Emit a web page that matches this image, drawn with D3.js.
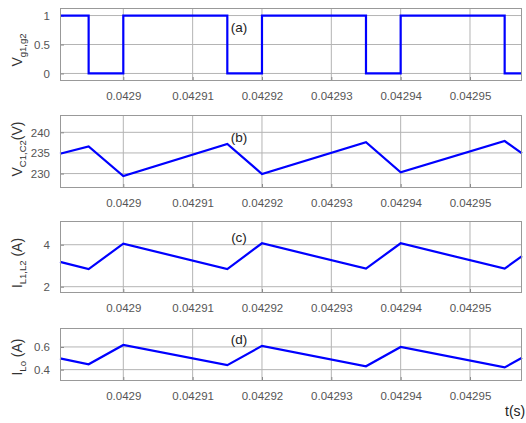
<!DOCTYPE html>
<html>
<head>
<meta charset="utf-8">
<script src="https://cdn.jsdelivr.net/npm/d3@7"></script>
<style>
  html, body { margin: 0; padding: 0; background: #fff; }
  svg { display: block; font-family: "Liberation Sans", Arial, sans-serif; }
</style>
</head>
<body>
<svg id="chart" width="526" height="423"></svg>
<script>
// Time window and x ticks (seconds)
const timeRange = [0.04289087, 0.0429575];
const xTicks = [0.0429, 0.04291, 0.04292, 0.04293, 0.04294, 0.04295];
const xTickLabels = ["0.0429", "0.04291", "0.04292", "0.04293", "0.04294", "0.04295"];

// Gate signal Vg1,g2 (step after each time)
const gateTimes = [0.04289087, 0.042895, 0.0429, 0.042915, 0.04292, 0.042935, 0.04294, 0.042955, 0.0429575];
const gateValues = [1, 0, 1, 0, 1, 0, 1, 0, 0];

// Corner times of the ripple waveforms
const rippleTimes = [0.04289087, 0.042895, 0.0429, 0.042915, 0.04292, 0.042935, 0.04294, 0.042955, 0.0429575];
// Capacitor voltage Vc1,c2 (V)
const vcValues = [234.8, 236.6, 229.4, 237.2, 229.9, 237.6, 230.3, 237.9, 234.9];
// Inductor current IL1,L2 (A)
const ilValues = [3.18, 2.84, 4.05, 2.84, 4.07, 2.86, 4.07, 2.86, 3.46];
// Output current ILo (A)
const iloValues = [0.50, 0.447, 0.617, 0.44, 0.61, 0.43, 0.60, 0.42, 0.505];

// y ticks per panel
const gateTicks = [0, 0.5, 1];
const vcTicks = [230, 235, 240];
const ilTicks = [2, 4];
const iloTicks = [0.4, 0.6];

const panels = [
  { top: 8, bottom: 81, domain: [-0.13, 1.13], ticks: gateTicks, tickFmt: d => String(d),
    times: gateTimes, values: gateValues, step: true,
    label: ["V", "g1,g2", ""], labelY: 50, labelX: 22, tag: "(a)", tagY: 32 },
  { top: 115, bottom: 188, domain: [226.5, 244.2], ticks: vcTicks, tickFmt: d => String(d),
    times: rippleTimes, values: vcValues, step: false,
    label: ["V", "C1,C2", "(V)"], labelY: 149, labelX: 22, tag: "(b)", tagY: 142 },
  { top: 221, bottom: 293, domain: [1.7, 5.13], ticks: ilTicks, tickFmt: d => String(d),
    times: rippleTimes, values: ilValues, step: false,
    label: ["I", "L1,L2", " (A)"], labelY: 263, labelX: 22, tag: "(c)", tagY: 242 },
  { top: 328, bottom: 381, domain: [0.3, 0.767], ticks: iloTicks, tickFmt: d => d.toFixed(1),
    times: rippleTimes, values: iloValues, step: false,
    label: ["I", "Lo", " (A)"], labelY: 357, labelX: 22, tag: "(d)", tagY: 344 }
];

const svg = d3.select("#chart");
const left = 60, right = 522;
const x = d3.scaleLinear().domain(timeRange).range([left, right]);

panels.forEach(p => {
  const y = d3.scaleLinear().domain(p.domain).range([p.bottom, p.top]);
  const g = svg.append("g");

  // grid
  g.selectAll(".vg").data(xTicks).join("line")
    .attr("x1", d => x(d)).attr("x2", d => x(d))
    .attr("y1", p.top).attr("y2", p.bottom)
    .attr("stroke", "#b4b4b4").attr("stroke-width", 1);
  g.selectAll(".hg").data(p.ticks).join("line")
    .attr("x1", left).attr("x2", right)
    .attr("y1", d => y(d)).attr("y2", d => y(d))
    .attr("stroke", "#b4b4b4").attr("stroke-width", 1);

  // axes (ticks inside, labels outside)
  const xAxis = d3.axisBottom(x).tickValues(xTicks)
    .tickFormat((d, i) => xTickLabels[i]).tickSizeInner(-4).tickSizeOuter(0).tickPadding(11);
  const gx = g.append("g").attr("transform", `translate(0,${p.bottom})`).call(xAxis);
  const yAxis = d3.axisLeft(y).tickValues(p.ticks).tickFormat(p.tickFmt)
    .tickSizeInner(-4).tickSizeOuter(0).tickPadding(10);
  const gy = g.append("g").attr("transform", `translate(${left},0)`).call(yAxis);
  [gx, gy].forEach(a => {
    a.select(".domain").remove();
    a.selectAll(".tick line").attr("stroke", "#888");
    a.selectAll(".tick text").attr("fill", "#555").attr("font-size", 11.5)
      .attr("font-family", "Liberation Sans, Arial, sans-serif");
  });

  // line
  const line = d3.line()
    .x((d, i) => x(p.times[i]))
    .y(d => y(d))
    .curve(p.step ? d3.curveStepAfter : d3.curveLinear);
  g.append("path").datum(p.values)
    .attr("d", line).attr("fill", "none")
    .attr("stroke", "#0000ff").attr("stroke-width", 2.2)
    .attr("stroke-linejoin", "miter");

  // box
  g.append("rect").attr("x", left + 0.5).attr("y", p.top + 0.5)
    .attr("width", right - left - 1).attr("height", p.bottom - p.top - 1)
    .attr("fill", "none").attr("stroke", "#999").attr("stroke-width", 1);

  // y label
  const t = g.append("text")
    .attr("transform", `translate(${p.labelX},${p.labelY}) rotate(-90)`)
    .attr("text-anchor", "middle").attr("fill", "#333").attr("font-size", 14);
  t.append("tspan").text(p.label[0]);
  t.append("tspan").attr("font-size", 9.5).attr("dy", 4).text(p.label[1]);
  if (p.label[2]) t.append("tspan").attr("dy", -4).text(p.label[2]);

  // panel tag
  g.append("text").attr("x", 239).attr("y", p.tagY)
    .attr("text-anchor", "middle").attr("font-size", 13.5).attr("fill", "#222")
    .text(p.tag);
});

// time axis title
svg.append("text").attr("x", 505).attr("y", 416)
  .attr("font-size", 14).attr("fill", "#222").text("t(s)");
</script>
</body>
</html>
